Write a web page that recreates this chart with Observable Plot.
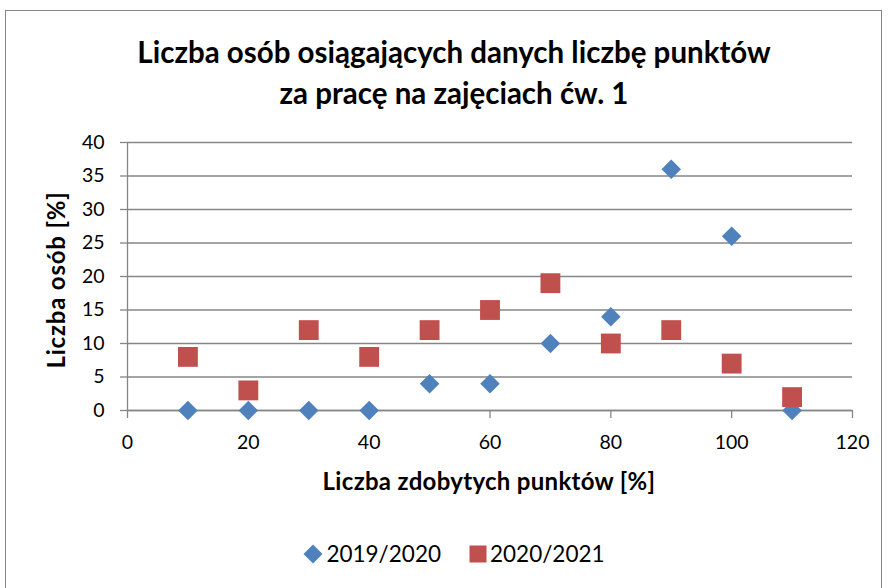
<!DOCTYPE html>
<html><head><meta charset="utf-8">
<script src="https://cdn.jsdelivr.net/npm/d3@7"></script>
<script src="https://cdn.jsdelivr.net/npm/@observablehq/plot@0.6"></script>
<style>
body{margin:0;background:#fff;font-family:Lato, "Open Sans", sans-serif;}
#wrap{position:relative;width:891px;height:588px;overflow:hidden;background:#fff;}
#border{position:absolute;left:5px;top:10px;width:877px;height:600px;border:1px solid #868686;box-sizing:border-box;}
#title{position:absolute;left:0;width:908px;top:31px;text-align:center;font-weight:bold;font-size:29.5px;line-height:41px;color:#000;}
#chart{position:absolute;left:0;top:120px;}
#ylab{position:absolute;left:55px;top:280px;transform:translate(-50%,-50%) rotate(-90deg);font-weight:bold;font-size:24px;letter-spacing:0.8px;white-space:nowrap;}
#xlab{position:absolute;left:489px;top:480px;transform:translate(-50%,-50%);font-weight:bold;font-size:24px;letter-spacing:0.3px;white-space:nowrap;}
#legend{position:absolute;left:0;width:908px;top:540px;display:flex;justify-content:center;align-items:center;font-size:22.5px;gap:0;}
.item{display:flex;align-items:center;margin:0 14px;}
.item svg{margin-right:3px;}
</style>
</head><body>
<div id="wrap">
  <div id="border"></div>
  <div id="title">Liczba osób osiągających danych liczbę punktów<br>za pracę na zajęciach ćw. 1</div>
  <div id="chart"></div>
  <div id="ylab">Liczba osób [%]</div>
  <div id="xlab">Liczba zdobytych punktów [%]</div>
  <div id="legend"></div>
</div>
<script>
const points = [10, 20, 30, 40, 50, 60, 70, 80, 90, 100, 110];
const series1Name = "2019/2020";
const series2Name = "2020/2021";
const values2019 = [0, 0, 0, 0, 4, 4, 10, 14, 36, 26, 0];
const values2020 = [8, 3, 12, 8, 12, 15, 19, 10, 12, 7, 2];
const xTicks = [0, 20, 40, 60, 80, 100, 120];
const yTicks = [0, 5, 10, 15, 20, 25, 30, 35, 40];
const colors = {[series1Name]: "#4F81BD", [series2Name]: "#C0504D"};

const data = [
  ...points.map((p, i) => ({x: p, y: values2019[i], s: series1Name})),
  ...points.map((p, i) => ({x: p, y: values2020[i], s: series2Name}))
];

const chart = Plot.plot({
  width: 891,
  height: 380,
  marginLeft: 127,
  marginRight: 39,
  marginTop: 22,
  marginBottom: 90,
  style: {fontFamily: "Lato, 'Open Sans', sans-serif", fontSize: "19px", color: "#000", background: "transparent", overflow: "visible"},
  x: {domain: [0, 120]},
  y: {domain: [0, 40]},
  marks: [
    Plot.gridY(yTicks, {stroke: "#868686", strokeOpacity: 1, strokeWidth: 1.3}),
    Plot.ruleX([0], {stroke: "#868686", strokeWidth: 1.3}),
    Plot.ruleY([0], {stroke: "#868686", strokeWidth: 1.3}),
    Plot.axisY(yTicks, {tickSize: 7, tickPadding: 16, stroke: "#868686", strokeWidth: 1.3, label: null, fontSize: 19.5, fill: "#000"}),
    Plot.axisX(xTicks, {tickSize: 8, tickPadding: 17, stroke: "#868686", strokeWidth: 1.3, label: null, fontSize: 19.5, fill: "#000"}),
    Plot.dot(data.filter(d => d.s === series1Name), {x: "x", y: "y", symbol: "diamond2", r: 8.8, fill: colors[series1Name], stroke: "none"}),
    Plot.dot(data.filter(d => d.s === series2Name), {x: "x", y: "y", symbol: "square", r: 11.2, fill: colors[series2Name], stroke: "none"})
  ]
});
document.getElementById("chart").appendChild(chart);

const legend = document.getElementById("legend");
legend.innerHTML = `
<div class="item"><svg width="20" height="20" viewBox="-10 -10 20 20"><path d="M0,-9.5L9.5,0L0,9.5L-9.5,0Z" fill="${colors[series1Name]}"/></svg><span>${series1Name}</span></div>
<div class="item"><svg width="18" height="18" viewBox="-9 -9 18 18"><rect x="-8.5" y="-8.5" width="17" height="17" fill="${colors[series2Name]}"/></svg><span>${series2Name}</span></div>`;
</script>
</body></html>
